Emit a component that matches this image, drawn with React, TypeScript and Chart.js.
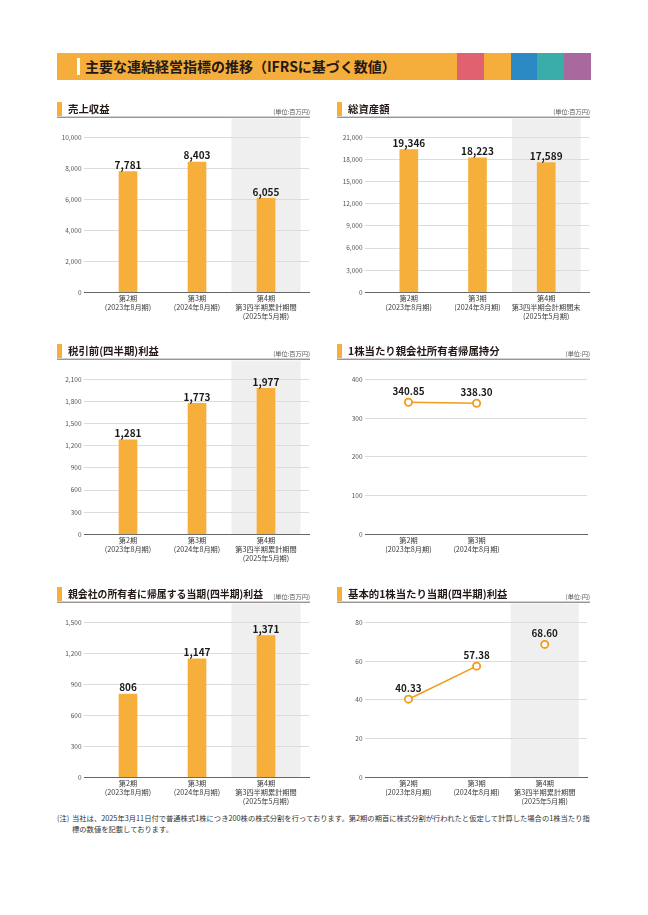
import { useEffect, useRef } from "react";
import { Chart, registerables } from "chart.js";

Chart.register(...registerables);

const FONT = '"Noto Sans CJK JP", "Noto Sans", sans-serif';
const ORANGE = "#F6AF3A";
const LINE_ORANGE = "#F29B1D";

// ---- data ----
const periods3 = [
  ["第2期", "(2023年8月期)"],
  ["第3期", "(2024年8月期)"],
  ["第4期", "第3四半期累計期間", "(2025年5月期)"],
];
const periodsAssets = [
  ["第2期", "(2023年8月期)"],
  ["第3期", "(2024年8月期)"],
  ["第4期", "第3四半期会計期間末", "(2025年5月期)"],
];
const periods2 = [
  ["第2期", "(2023年8月期)"],
  ["第3期", "(2024年8月期)"],
];

const revenue = [7781, 8403, 6055];
const revenueTicks = [0, 2000, 4000, 6000, 8000, 10000];

const totalAssets = [19346, 18223, 17589];
const assetsTicks = [0, 3000, 6000, 9000, 12000, 15000, 18000, 21000];

const preTaxProfit = [1281, 1773, 1977];
const preTaxTicks = [0, 300, 600, 900, 1200, 1500, 1800, 2100];

const equityPerShare = [340.85, 338.3];
const equityTicks = [0, 100, 200, 300, 400];

const netProfit = [806, 1147, 1371];
const netProfitTicks = [0, 300, 600, 900, 1200, 1500];

const eps = [40.33, 57.38, 68.6];
const epsConnected = 2; // points joined by the line
const epsTicks = [0, 20, 40, 60, 80];

const bannerBlocks = ["#E0616F", "#F5AE3C", "#2B8AC4", "#3AADA8", "#A9699E"];

type Cfg = {
  left: number;
  top: number;
  yWidth: number;
  title: string;
  unit: string;
  kind: "bar" | "line";
  values: number[];
  labels: string[][];
  ticks: number[];
  shade: boolean;
  connected?: number;
};

const panels: Cfg[] = [
  { left: 57, top: 98, yWidth: 27, title: "売上収益", unit: "(単位:百万円)", kind: "bar", values: revenue, labels: periods3, ticks: revenueTicks, shade: true },
  { left: 337, top: 98, yWidth: 28, title: "総資産額", unit: "(単位:百万円)", kind: "bar", values: totalAssets, labels: periodsAssets, ticks: assetsTicks, shade: true },
  { left: 57, top: 340, yWidth: 27, title: "税引前(四半期)利益", unit: "(単位:百万円)", kind: "bar", values: preTaxProfit, labels: periods3, ticks: preTaxTicks, shade: true },
  { left: 337, top: 340, yWidth: 28, title: "1株当たり親会社所有者帰属持分", unit: "(単位:円)", kind: "line", values: equityPerShare, labels: periods2, ticks: equityTicks, shade: false, connected: 2 },
  { left: 57, top: 583, yWidth: 27, title: "親会社の所有者に帰属する当期(四半期)利益", unit: "(単位:百万円)", kind: "bar", values: netProfit, labels: periods3, ticks: netProfitTicks, shade: true },
  { left: 337, top: 583, yWidth: 28, title: "基本的1株当たり当期(四半期)利益", unit: "(単位:円)", kind: "line", values: eps, labels: periods3, ticks: epsTicks, shade: true, connected: epsConnected },
];

const W = 256;
const H = 230;
const AREA_TOP = 39.3;
const AREA_BOTTOM = 194.3;
const X_MIN = -0.6377;
const X_MAX = 2.6232;

function Panel({ cfg }: { cfg: Cfg }) {
  const ref = useRef<HTMLCanvasElement>(null);
  useEffect(() => {
    if (!ref.current) return;
    const isBar = cfg.kind === "bar";
    const fmt = (v: number) => (isBar ? v.toLocaleString("en-US") : v.toFixed(2));
    const decor = {
      id: "decor",
      beforeDraw(chart: any) {
        const { ctx, chartArea } = chart;
        const xs = chart.scales.x;
        ctx.save();
        if (cfg.shade) {
          const x1 = xs.getPixelForValue(1.5);
          const x2 = xs.getPixelForValue(2.5);
          ctx.fillStyle = "#EFEFEF";
          ctx.fillRect(x1, 20.5, x2 - x1, chartArea.bottom - 20.5);
        }
        ctx.fillStyle = ORANGE;
        ctx.fillRect(0, 4, 5, 14);
        ctx.fillStyle = "#231815";
        ctx.font = `bold 10.4px ${FONT}`;
        ctx.textBaseline = "middle";
        ctx.textAlign = "left";
        ctx.fillText(cfg.title, 11, 10.8, 195);
        ctx.fillStyle = "#555";
        ctx.font = `6.2px ${FONT}`;
        ctx.textAlign = "right";
        ctx.fillText(cfg.unit, 253, 14);
        ctx.fillStyle = "#8C8C8C";
        ctx.fillRect(0, 18.6, 253, 1.3);
        ctx.restore();
      },
      afterDatasetsDraw(chart: any) {
        const { ctx } = chart;
        const meta = chart.getDatasetMeta(0);
        ctx.save();
        ctx.fillStyle = "#1a1a1a";
        ctx.font = `bold ${isBar ? 10 : 9.8}px ${FONT}`;
        ctx.textAlign = "center";
        meta.data.forEach((el: any, i: number) => {
          if (isBar) {
            ctx.textBaseline = "bottom";
            ctx.fillText(fmt(cfg.values[i]), el.x, el.y - 1.5);
          } else {
            ctx.textBaseline = "middle";
            ctx.fillText(fmt(cfg.values[i]), el.x, el.y - 11);
          }
        });
        ctx.restore();
      },
    };

    const points = cfg.values.map((v, i) => ({ x: i, y: v }));
    const connected = cfg.connected ?? cfg.values.length;
    const dataset: any = isBar
      ? { type: "bar", data: points, backgroundColor: ORANGE, barThickness: 18, borderWidth: 0 }
      : {
          type: "line",
          data: points,
          borderColor: LINE_ORANGE,
          borderWidth: 1.6,
          pointRadius: 3.6,
          pointBorderWidth: 1.8,
          pointBackgroundColor: "#fff",
          pointBorderColor: LINE_ORANGE,
          clip: false,
          segment: {
            borderColor: (c: any) => (c.p1DataIndex >= connected ? "rgba(0,0,0,0)" : LINE_ORANGE),
          },
        };

    const chart = new Chart(ref.current, {
      type: isBar ? "bar" : "line",
      data: { datasets: [dataset] },
      options: {
        animation: false,
        responsive: false,
        maintainAspectRatio: false,
        layout: { padding: { top: AREA_TOP, left: 0, right: 4, bottom: 0 } },
        plugins: { legend: { display: false }, tooltip: { enabled: false } },
        scales: {
          x: {
            type: "linear",
            offset: false,
            min: X_MIN,
            max: X_MAX,
            grid: { display: false, drawTicks: false, offset: false },
            border: { display: true, color: "#666", width: 1 },
            afterBuildTicks: (axis: any) => {
              axis.ticks = cfg.labels.map((_, i) => ({ value: i }));
            },
            afterFit: (axis: any) => {
              axis.height = H - AREA_BOTTOM;
            },
            ticks: {
              autoSkip: false,
              maxRotation: 0,
              minRotation: 0,
              padding: 1,
              color: "#3a3a3a",
              font: { family: FONT, size: 7.2, lineHeight: 1.3 },
              callback: (v: any) => cfg.labels[Number(v)] ?? "",
            },
          },
          y: {
            type: "linear",
            min: 0,
            max: cfg.ticks[cfg.ticks.length - 1],
            grid: { color: "#DCDCDC", lineWidth: 1, drawTicks: false },
            border: { display: false },
            afterBuildTicks: (axis: any) => {
              axis.ticks = cfg.ticks.map((v) => ({ value: v }));
            },
            afterFit: (axis: any) => {
              axis.width = cfg.yWidth;
            },
            ticks: {
              padding: 2.5,
              color: "#555",
              font: { family: FONT, size: 6.5 },
              callback: (v: any) => Number(v).toLocaleString("en-US"),
            },
          },
        },
      } as any,
      plugins: [decor],
    });
    return () => chart.destroy();
  }, [cfg]);

  return (
    <canvas
      ref={ref}
      width={W}
      height={H}
      style={{ position: "absolute", left: cfg.left, top: cfg.top, width: W, height: H }}
    />
  );
}

export default function App() {
  return (
    <div style={{ position: "absolute", left: 0, top: 0, width: 648, height: 915, background: "#fff", fontFamily: FONT }}>
      <div style={{ position: "absolute", left: 57, top: 53, width: 534, height: 27, background: "#F5AE3C" }}>
        <div style={{ position: "absolute", left: 20, top: 5, width: 3, height: 17, background: "#fff" }} />
        <div
          style={{
            position: "absolute",
            left: 28,
            top: 0,
            height: 27,
            lineHeight: "27px",
            fontSize: 14,
            fontWeight: 700,
            color: "#231815",
            whiteSpace: "nowrap",
          }}
        >
          主要な連結経営指標の推移（IFRSに基づく数値）
        </div>
        {bannerBlocks.map((c, i) => (
          <div key={i} style={{ position: "absolute", left: 400 + i * 26.8, top: 0, width: 26.8, height: 27, background: c }} />
        ))}
      </div>
      {panels.map((p, i) => (
        <Panel key={i} cfg={p} />
      ))}
      <div style={{ position: "absolute", left: 57, top: 813, fontSize: 7.3, lineHeight: "10.5px", color: "#333", whiteSpace: "nowrap" }}>
        (注)
      </div>
      <div style={{ position: "absolute", left: 72, top: 813, fontSize: 7.3, lineHeight: "10.5px", color: "#333", whiteSpace: "nowrap" }}>
        当社は、2025年3月11日付で普通株式1株につき200株の株式分割を行っております。第2期の期首に株式分割が行われたと仮定して計算した場合の1株当たり指
        <br />
        標の数値を記載しております。
      </div>
    </div>
  );
}
